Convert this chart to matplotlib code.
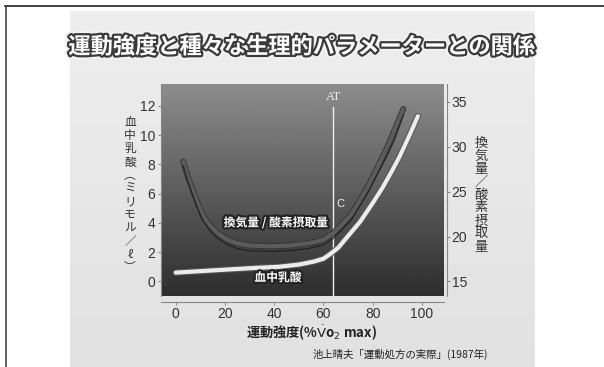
import numpy as np
import matplotlib
matplotlib.use("Agg")
import matplotlib.pyplot as plt
import matplotlib.patheffects as pe
from matplotlib.lines import Line2D

plt.rcParams['font.family'] = ['Noto Sans CJK JP', 'DejaVu Sans']

# data (x = % VO2max, y = left axis units)
x_vent = [3, 5, 7, 9, 11, 14, 17, 21, 25, 30, 38, 46, 54, 60, 64, 67, 71, 74, 78, 82, 86, 89, 92.5]
y_vent = [8.2, 7.1, 6.2, 5.3, 4.5, 3.8, 3.3, 2.85, 2.6, 2.45, 2.4, 2.45, 2.6, 2.85, 3.3, 3.8, 4.5, 5.3, 6.45, 7.8, 9.2, 10.4, 11.8]
y_o2 = [7.9, 6.8, 5.85, 4.95, 4.15, 3.45, 2.95, 2.5, 2.25, 2.1, 2.05, 2.1, 2.25, 2.5, 2.95, 3.45, 4.15, 4.95, 6.05, 7.35, 8.65, 9.75, 11.4]

x_lac = [0, 10, 20, 30, 42, 50, 56, 60, 63, 66, 70, 75, 80, 84, 88, 91, 95, 98.4]
y_lac = [0.6, 0.7, 0.8, 0.9, 1.0, 1.15, 1.35, 1.55, 1.9, 2.3, 3.1, 4.1, 5.35, 6.4, 7.6, 8.55, 10.0, 11.3]

at_x = 64
x_ticks = [0, 20, 40, 60, 80, 100]
left_ticks = [0, 2, 4, 6, 8, 10, 12]
right_ticks = [15, 20, 25, 30, 35]

title = "運動強度と種々な生理的パラメーターとの関係"
left_label = "血中乳酸︵ミリモル／ℓ︶"
right_label = "換気量／酸素摂取量"
source = "池上晴夫「運動処方の実際」(1987年)"

W, H = 604, 367
fig = plt.figure(figsize=(W / 100, H / 100), dpi=100)
fig.patch.set_facecolor('white')

# photo background
bg = fig.add_axes([70 / W, 0, 465 / W, (H - 11) / H])
grad = np.linspace(0.93, 0.88, 100).reshape(-1, 1)
bg.imshow(grad, cmap='gray', vmin=0, vmax=1, aspect='auto', extent=[0, 1, 0, 1])
bg.set_axis_off()

# frame lines
fig.add_artist(Line2D([5 / W, 1], [1 - 6 / H, 1 - 6 / H], color='#222', lw=1.2, transform=fig.transFigure))
fig.add_artist(Line2D([6 / W, 6 / W], [0, 1 - 6 / H], color='#444', lw=1.2, transform=fig.transFigure))

# title
fig.text(302 / W, 1 - 47 / H, title, ha='center', va='center', fontsize=16, weight='bold',
         color='white',
         path_effects=[pe.Stroke(linewidth=6, foreground='#f2f2f2'),
                       pe.Stroke(linewidth=3.2, foreground='#3a3a3a'),
                       pe.Normal()])

ax = fig.add_axes([161 / W, 1 - 296 / H, 283 / W, 212 / H])
ax.set_xlim(-6, 109)
ax.set_ylim(-1, 13.5)
# dark gradient inside the plot
g = np.linspace(0.18, 0.55, 200).reshape(-1, 1)
ax.imshow(g, cmap='gray', vmin=0, vmax=1, aspect='auto', origin='lower',
          extent=[-6, 109, -1, 13.5], zorder=0)

ax.axvline(at_x, ymax=(11.9 + 1) / 14.5, color='#eeeeee', lw=1.0, zorder=2)
ax.text(at_x, 12.6, "AT", ha='center', va='center', color='#eeeeee', fontsize=9,
        family=['Liberation Serif'], zorder=3)
ax.text(66.8, 5.3, "C", ha='center', va='center', color='#eeeeee', fontsize=8,
        family=['Liberation Sans'], zorder=3)

ax.plot(x_vent, y_vent, color='#5c5c5c', lw=3, solid_capstyle='round', solid_joinstyle='round', zorder=4,
        path_effects=[pe.Stroke(linewidth=4.2, foreground='#333'), pe.Normal()])
ax.plot(x_vent, y_o2, color='#222', lw=0.9, zorder=4)
ax.plot(x_lac, y_lac, color='#ececec', lw=3, solid_capstyle='round', solid_joinstyle='round', zorder=5,
        path_effects=[pe.Stroke(linewidth=4.5, foreground='#555'), pe.Normal()])

lab_fx = [pe.Stroke(linewidth=3, foreground='#222'), pe.Normal()]
ax.text(40.6, 4.0, "換気量 / 酸素摂取量", ha='center', va='center', fontsize=8.5, weight='bold',
        color='white', path_effects=lab_fx, zorder=6)
ax.text(41.5, 0.25, "血中乳酸", ha='center', va='center', fontsize=8.5, weight='bold',
        color='white', path_effects=lab_fx, zorder=6)

tick_font = ['Liberation Sans Narrow', 'Liberation Sans']
ax.set_xticks(x_ticks)
ax.set_yticks(left_ticks)
for s in ['top', 'right']:
    ax.spines[s].set_visible(False)
ax.spines['bottom'].set_position(('outward', 4))
ax.spines['left'].set_color('#888')
ax.spines['bottom'].set_color('#888')
ax.tick_params(colors='#888', labelcolor='#333', labelsize=10, length=2.5, width=0.8, pad=1.5)
for lb in ax.get_xticklabels() + ax.get_yticklabels():
    lb.set_family(tick_font)

ax2 = ax.twinx()
ax2.set_ylim(15 - 1 * 1.63, 15 + 13.5 * 1.63)
ax2.set_yticks(right_ticks)
for s in ['top', 'left', 'bottom']:
    ax2.spines[s].set_visible(False)
ax2.spines['right'].set_position(('outward', 2))
ax2.spines['right'].set_color('#888')
ax2.tick_params(colors='#888', labelcolor='#333', labelsize=10, length=2, width=0.8, pad=1.5)
for lb in ax2.get_yticklabels():
    lb.set_family(tick_font)

# vertical axis titles
fig.text(130 / W, 1 - 195 / H, "\n".join(left_label), ha='center', va='center', fontsize=8.5,
         linespacing=1.02, color='#333')
fig.text(481 / W, 1 - 195 / H, "\n".join(right_label), ha='center', va='center', fontsize=9.5,
         linespacing=1.0, color='#333')

fig.text(311 / W, 1 - 333 / H, r"運動強度(%$\dot{\rm V}$o$_2$ max)", ha='center', va='center',
         fontsize=9.5, weight='bold', color='#222')
fig.text(488 / W, 1 - 354 / H, source, ha='right', va='center', fontsize=7.5, color='#222')

fig.savefig("out.png", dpi=100)
